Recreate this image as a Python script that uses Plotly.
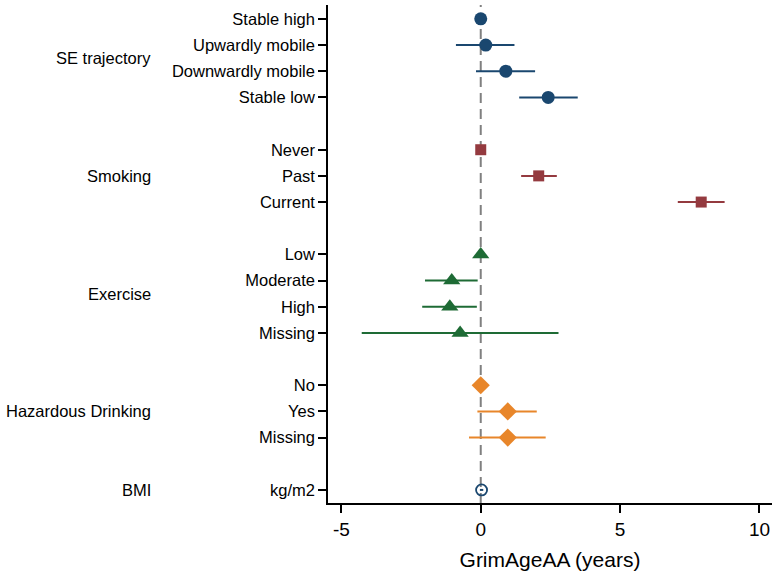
import plotly.graph_objects as go

# ---- data ----
se_labels = ["Stable high", "Upwardly mobile", "Downwardly mobile", "Stable low"]
se_est = [0.0, 0.18, 0.90, 2.42]
se_lo = [0.0, -0.89, -0.17, 1.38]
se_hi = [0.0, 1.21, 1.95, 3.48]

smk_labels = ["Never", "Past", "Current"]
smk_est = [0.0, 2.08, 7.91]
smk_lo = [0.0, 1.45, 7.07]
smk_hi = [0.0, 2.73, 8.75]

ex_labels = ["Low", "Moderate", "High", "Missing"]
ex_est = [0.0, -1.04, -1.11, -0.74]
ex_lo = [0.0, -2.00, -2.10, -4.27]
ex_hi = [0.0, -0.11, -0.14, 2.79]

dr_labels = ["No", "Yes", "Missing"]
dr_est = [0.0, 0.97, 0.97]
dr_lo = [0.0, -0.12, -0.42]
dr_hi = [0.0, 2.01, 2.33]

bmi_labels = ["kg/m2"]
bmi_est = [0.03]
bmi_lo = [-0.03]
bmi_hi = [0.09]

group_names = ["SE trajectory", "Smoking", "Exercise", "Hazardous Drinking", "BMI"]
x_ticks = [-5, 0, 5, 10]
x_tick_text = ["-5", "0", "5", "10"]

groups = [
    (se_labels, se_est, se_lo, se_hi, "#1a476f", "circle", 13),
    (smk_labels, smk_est, smk_lo, smk_hi, "#943a3f", "square", 11),
    (ex_labels, ex_est, ex_lo, ex_hi, "#1e6b35", "triangle-up", 15),
    (dr_labels, dr_est, dr_lo, dr_hi, "#e8862a", "diamond", 14),
    (bmi_labels, bmi_est, bmi_lo, bmi_hi, "#1a476f", "circle-open", 11),
]

fig = go.Figure()
FONT = "Liberation Sans, Arial, sans-serif"

tickvals, ticktext = [], []
pos = 0
group_mid = []
for labels, est, lo, hi, color, symbol, size in groups:
    ys = list(range(pos, pos + len(labels)))
    tickvals += ys
    ticktext += labels
    group_mid.append((ys[0] + ys[-1]) / 2)
    fig.add_trace(go.Scatter(
        x=est, y=ys, mode="markers",
        marker=dict(symbol=symbol, size=size, color=color,
                    line=dict(color=color, width=1.8 if symbol == "circle-open" else 0)),
        error_x=dict(type="data", symmetric=False,
                     array=[h - e for h, e in zip(hi, est)],
                     arrayminus=[e - l for e, l in zip(est, lo)],
                     color=color, thickness=2, width=0),
        showlegend=False, hoverinfo="x+y",
    ))
    pos += len(labels) + 1

for name, ym in zip(group_names, group_mid):
    fig.add_annotation(x=-0.394, xref="paper", y=ym, yref="y", text=name,
                       showarrow=False, xanchor="right", yanchor="middle",
                       font=dict(size=16.5, color="black", family=FONT))

fig.add_shape(type="line", x0=0, x1=0, xref="x", y0=0, y1=1, yref="paper",
              line=dict(color="#808080", width=2, dash="10px,6px"), layer="below")

fig.update_layout(
    width=779, height=576,
    margin=dict(l=328, r=7, t=5, b=73),
    plot_bgcolor="white", paper_bgcolor="white",
    font=dict(family=FONT, color="black"),
    xaxis=dict(range=[-5.48, 10.45], tickvals=x_ticks, ticktext=x_tick_text,
               ticks="outside", ticklen=8,
               tickwidth=1.5, tickcolor="black", showline=True, linecolor="black",
               linewidth=1.5, showgrid=False, zeroline=False,
               tickfont=dict(size=19, family=FONT),
               title=dict(text="GrimAgeAA (years)", font=dict(size=21, family=FONT), standoff=14)),
    yaxis=dict(range=[18.5, -0.53], tickvals=tickvals, ticktext=ticktext, ticks="outside",
               ticklen=8, tickwidth=1.5, tickcolor="black", showline=True, linecolor="black",
               linewidth=1.5, showgrid=False, zeroline=False,
               tickfont=dict(size=16.5, family=FONT)),
)

fig.write_html("out.html", config={"displayModeBar": False},
               post_script="document.body.style.margin='0';")
